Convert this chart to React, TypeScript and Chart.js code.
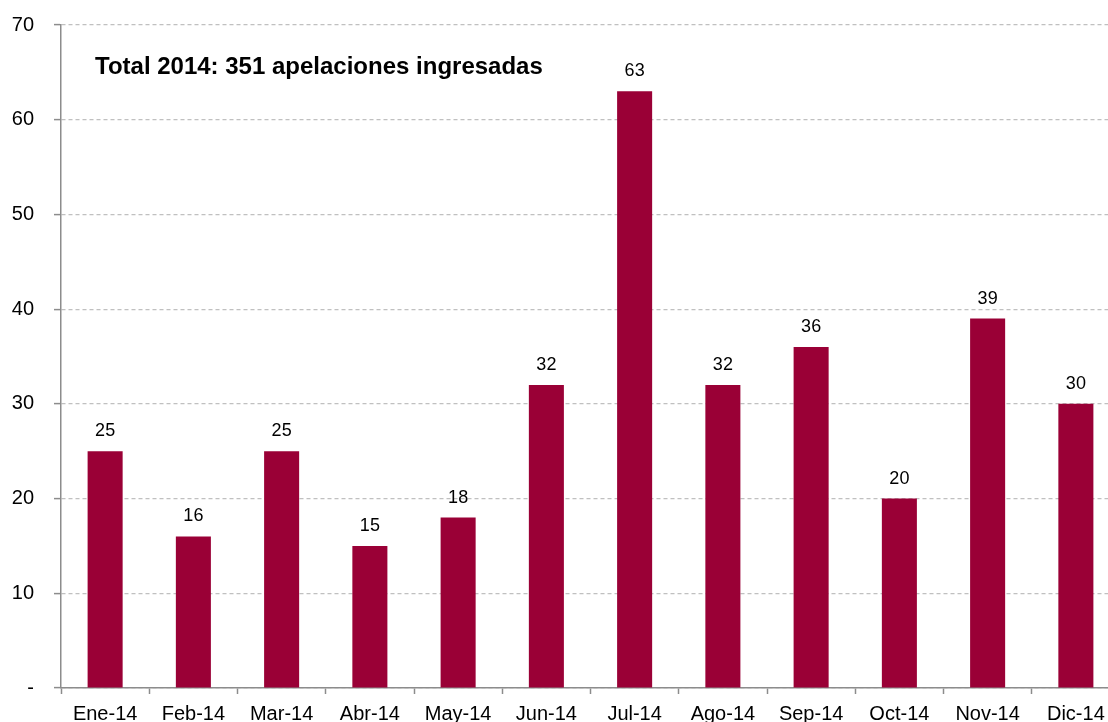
import React, { useEffect, useRef } from "react";
import { Chart, registerables } from "chart.js";

Chart.register(...registerables);

const categories = ["Ene-14", "Feb-14", "Mar-14", "Abr-14", "May-14", "Jun-14", "Jul-14", "Ago-14", "Sep-14", "Oct-14", "Nov-14", "Dic-14"];
const apelaciones = [25, 16, 25, 15, 18, 32, 63, 32, 36, 20, 39, 30];
const yTicks = [0, 10, 20, 30, 40, 50, 60, 70];
const totalLabel = "Total 2014: 351 apelaciones ingresadas";

const FONT = "'Liberation Sans', Arial, sans-serif";
const BAR = "#9A0036";

const overlayPlugin = {
  id: "overlayText",
  afterDatasetsDraw(chart: any) {
    const ctx = chart.ctx;
    const area = chart.chartArea;
    ctx.save();
    ctx.fillStyle = "#000";
    ctx.font = `bold 24px ${FONT}`;
    ctx.textAlign = "left";
    ctx.textBaseline = "alphabetic";
    ctx.fillText(totalLabel, area.left + 34, area.top + 49);
    ctx.font = `18px ${FONT}`;
    ctx.textAlign = "center";
    const meta = chart.getDatasetMeta(0);
    meta.data.forEach((bar: any, i: number) => {
      ctx.fillText(String(apelaciones[i]), bar.x, bar.y - 15);
    });
    ctx.restore();
  },
};

export default function App() {
  const ref = useRef<HTMLCanvasElement>(null);
  useEffect(() => {
    if (!ref.current) return;
    const chart = new Chart(ref.current, {
      type: "bar",
      data: {
        labels: categories,
        datasets: [
          {
            data: apelaciones,
            backgroundColor: BAR,
            borderWidth: 0,
            categoryPercentage: 1,
            barPercentage: 0.397,
          },
        ],
      },
      options: {
        responsive: false,
        animation: false,
        devicePixelRatio: 1,
        layout: { padding: { left: 12, top: 7.5, right: 6, bottom: 0 } },
        plugins: { legend: { display: false }, tooltip: { enabled: false }, title: { display: false } },
        scales: {
          x: {
            offset: true,
            grid: {
              offset: true,
              drawOnChartArea: false,
              drawTicks: true,
              tickLength: 6,
              tickColor: "#8c8c8c",
              tickWidth: 1.5,
            },
            border: { display: true, color: "#8c8c8c", width: 1.5 },
            ticks: {
              color: "#000",
              font: { family: FONT, size: 20 },
              padding: 8,
              maxRotation: 0,
              autoSkip: false,
            },
          },
          y: {
            min: 0,
            max: 70,
            afterBuildTicks(scale: any) {
              scale.ticks = yTicks.map((v) => ({ value: v }));
            },
            afterFit(scale: any) {
              scale.width = 49;
            },
            grid: {
              color: "#c0c0c0",
              lineWidth: 1.2,
              drawTicks: true,
              tickLength: 7,
              tickColor: "#8c8c8c",
              tickBorderDash: [],
              tickWidth: 1.5,
            },
            border: { display: true, color: "#8c8c8c", width: 1.5, dash: [4, 3] },
            ticks: {
              color: "#000",
              font: { family: FONT, size: 20 },
              padding: 20,
              callback: (v: any) => (Number(v) === 0 ? "-" : String(v)),
            },
          },
        },
      },
      plugins: [overlayPlugin],
    });
    return () => chart.destroy();
  }, []);
  return (
    <div style={{ position: "fixed", left: 0, top: 0, width: 1108, height: 722, overflow: "hidden", background: "#fff" }}>
      <canvas ref={ref} width={1126} height={741} style={{ display: "block", marginTop: -7 }} />
    </div>
  );
}
